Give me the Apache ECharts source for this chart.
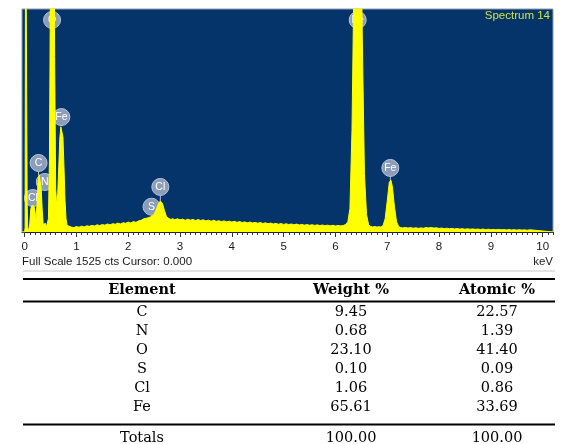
<!DOCTYPE html>
<html>
<head>
<meta charset="utf-8">
<script src="https://cdn.jsdelivr.net/npm/echarts@6/dist/echarts.min.js"></script>
<style>
html, body { margin: 0; padding: 0; background: #ffffff; }
#chart { width: 564px; height: 444px; }
</style>
</head>
<body>
<div id="chart"></div>
<script>
// EDS spectrum, [energy (keV), counts]
const spectrum = [
  [-0.05, 0], [0.00, 0], [0.01, 30], [0.02, 2500], [0.04, 2500], [0.05, 200], [0.06, 30],
  [0.08, 10], [0.10, 60], [0.12, 160], [0.14, 180], [0.16, 185], [0.18, 178], [0.20, 140],
  [0.22, 85], [0.24, 190], [0.26, 340], [0.28, 392], [0.30, 380], [0.32, 300], [0.34, 150],
  [0.36, 50], [0.38, 40], [0.40, 60], [0.42, 35], [0.44, 30], [0.46, 90], [0.48, 500],
  [0.50, 1800], [0.52, 2700], [0.54, 2800], [0.56, 2600], [0.58, 1200], [0.60, 300], [0.62, 180],
  [0.64, 260], [0.66, 450], [0.68, 640], [0.70, 720], [0.72, 725], [0.74, 650], [0.76, 450],
  [0.78, 220], [0.80, 90], [0.82, 45], [0.85, 32], [0.90, 34], [0.95, 30], [1.00, 37], [1.05, 33],
  [1.10, 40], [1.15, 35], [1.20, 42], [1.25, 39], [1.30, 45], [1.35, 41], [1.40, 49],
  [1.45, 44], [1.50, 51], [1.55, 47], [1.60, 55], [1.65, 49], [1.70, 57], [1.75, 53],
  [1.80, 61], [1.85, 55], [1.90, 63], [1.95, 60], [2.00, 68], [2.05, 62], [2.10, 71],
  [2.15, 66], [2.20, 76], [2.25, 80], [2.30, 90], [2.35, 94], [2.40, 99], [2.45, 106],
  [2.50, 120], [2.54, 152], [2.58, 190], [2.62, 212], [2.66, 196], [2.70, 146], [2.74, 104],
  [2.78, 94], [2.82, 86], [2.86, 91], [2.90, 84], [2.95, 90], [3.00, 83], [3.05, 88],
  [3.10, 80], [3.15, 87], [3.20, 81], [3.25, 86], [3.30, 78], [3.35, 85], [3.40, 79],
  [3.45, 83], [3.50, 76], [3.55, 81], [3.60, 74], [3.65, 80], [3.70, 73], [3.75, 77],
  [3.80, 71], [3.85, 76], [3.90, 70], [3.95, 74], [4.00, 68], [4.05, 73], [4.10, 66],
  [4.15, 71], [4.20, 65], [4.25, 69], [4.30, 63], [4.35, 68], [4.40, 62], [4.45, 66],
  [4.50, 60], [4.55, 65], [4.60, 58], [4.65, 63], [4.70, 57], [4.75, 61], [4.80, 55],
  [4.85, 59], [4.90, 53], [4.95, 58], [5.00, 52], [5.05, 56], [5.10, 51], [5.15, 55],
  [5.20, 49], [5.25, 54], [5.30, 48], [5.35, 52], [5.40, 47], [5.45, 51], [5.50, 46],
  [5.55, 50], [5.60, 45], [5.65, 49], [5.70, 44], [5.75, 48], [5.80, 43], [5.85, 47],
  [5.90, 42], [5.95, 46], [6.00, 41], [6.05, 45], [6.10, 42], [6.15, 44], [6.20, 52],
  [6.24, 70], [6.28, 160], [6.32, 700], [6.36, 1800], [6.40, 2600], [6.44, 2800], [6.48, 2400],
  [6.52, 1300], [6.56, 400], [6.60, 120], [6.64, 50], [6.68, 38], [6.72, 35], [6.76, 37],
  [6.80, 34], [6.84, 36], [6.88, 34], [6.92, 45], [6.96, 90], [7.00, 210], [7.04, 340],
  [7.07, 356], [7.10, 310], [7.14, 170], [7.18, 70], [7.22, 38], [7.26, 30], [7.30, 28],
  [7.35, 31], [7.40, 27], [7.45, 30], [7.50, 26], [7.55, 29], [7.60, 25], [7.65, 28],
  [7.70, 26], [7.75, 30], [7.80, 28], [7.85, 31], [7.90, 27], [7.95, 29], [8.00, 24],
  [8.05, 27], [8.10, 23], [8.15, 26], [8.20, 22], [8.25, 25], [8.30, 21], [8.35, 24],
  [8.40, 20], [8.45, 23], [8.50, 19], [8.55, 22], [8.60, 19], [8.65, 21], [8.70, 18],
  [8.75, 20], [8.80, 17], [8.85, 20], [8.90, 16], [8.95, 19], [9.00, 16], [9.05, 18],
  [9.10, 15], [9.15, 18], [9.20, 15], [9.25, 17], [9.30, 14], [9.35, 17], [9.40, 14],
  [9.45, 16], [9.50, 13], [9.55, 16], [9.60, 13], [9.65, 15], [9.70, 12], [9.75, 15],
  [9.80, 14], [9.85, 12], [9.86, 0], [10.20, 0]
];

const fullScale = 1525;              // counts at the top of the plot
const energyMin = -0.05;
const energyMax = 10.2;
const tickLabels = [0, 1, 2, 3, 4, 5, 6, 7, 8, 9, 10];

// Peak markers: symbol, energy (keV), marker height, peak height (counts)
const peakNames   = ['O', 'Fe', 'C', 'N', 'Cl', 'S', 'Cl', 'Fe', 'Fe'];
const peakEnergy  = [0.53, 0.71, 0.27, 0.39, 0.16, 2.45, 2.62, 6.43, 7.06];
const markerLevel = [1450, 786, 472, 342, 232, 173, 308, 1450, 438];
const peakLevel   = [1525, 725, 390, 280, 180, 105, 212, 1525, 356];

// Quantification table
const headers   = ['Element', 'Weight %', 'Atomic %'];
const elements  = ['C', 'N', 'O', 'S', 'Cl', 'Fe'];
const weightPct = ['9.45', '0.68', '23.10', '0.10', '1.06', '65.61'];
const atomicPct = ['22.57', '1.39', '41.40', '0.09', '0.86', '33.69'];
const totals    = ['Totals', '100.00', '100.00'];

const chart = echarts.init(document.getElementById('chart'), null, { renderer: 'canvas' });

// minor ticks every 0.1 keV
const minorTicks = [];
for (let i = 0; i <= 102; i++) minorTicks.push(i / 10);

const sansFont = '"Liberation Sans", Arial, sans-serif';
const serifFont = '"DejaVu Serif", serif';

const markerData = peakNames.map((n, i) => [peakEnergy[i], markerLevel[i], peakLevel[i]]);

// table layout
const colX = [142, 351, 497];
const headerY = 290.5;
const firstRowY = 312;
const rowStep = 19;
const totalsY = 438;
const ruleX1 = 23, ruleX2 = 555;

const graphics = [];
function rule(y, w, color) {
  graphics.push({ type: 'line', silent: true,
    shape: { x1: ruleX1, y1: y, x2: ruleX2, y2: y },
    style: { stroke: color || '#000', lineWidth: w } });
}
function cell(text, x, y, bold) {
  graphics.push({ type: 'text', silent: true, x: x, y: y,
    style: { text: text, align: 'center', verticalAlign: 'middle',
      font: (bold ? 'bold ' : '') + '14.5px ' + serifFont, fill: '#000' } });
}
rule(271, 1, '#c8c8c8');
rule(279, 2);
rule(301.5, 2);
rule(424.5, 2);
headers.forEach((h, i) => cell(h, colX[i], headerY, true));
elements.forEach((el, r) => {
  const y = firstRowY + r * rowStep;
  cell(el, colX[0], y);
  cell(weightPct[r], colX[1], y);
  cell(atomicPct[r], colX[2], y);
});
totals.forEach((t, i) => cell(t, colX[i], totalsY));

// captions around the spectrum
graphics.push({ type: 'text', silent: true, x: 22, y: 262,
  style: { text: 'Full Scale ' + fullScale + ' cts Cursor: 0.000', align: 'left', verticalAlign: 'middle',
    font: '11.5px ' + sansFont, fill: '#1a1a1a' } });
graphics.push({ type: 'text', silent: true, x: 553, y: 262,
  style: { text: 'keV', align: 'right', verticalAlign: 'middle', font: '11.5px ' + sansFont, fill: '#1a1a1a' } });
graphics.push({ type: 'text', silent: true, x: 550, y: 16,
  style: { text: 'Spectrum 14', align: 'right', verticalAlign: 'middle', font: '11.5px ' + sansFont, fill: '#cfe43e' } });

const option = {
  animation: false,
  grid: {
    left: 22, right: 11, top: 9, bottom: 212,
    show: true, backgroundColor: '#04346a', borderColor: '#8c9db5', borderWidth: 1
  },
  xAxis: [{
    type: 'value', min: energyMin, max: energyMax,
    axisLine: { show: true, lineStyle: { color: '#222', width: 1 } },
    axisTick: { show: true, customValues: minorTicks, length: 3, lineStyle: { color: '#333' } },
    axisLabel: { customValues: tickLabels, margin: 9, color: '#1a1a1a', fontSize: 11.5, fontFamily: sansFont },
    splitLine: { show: false }
  }, {
    type: 'value', min: energyMin, max: energyMax, position: 'bottom',
    axisLine: { show: false },
    axisTick: { show: true, customValues: tickLabels, length: 5, lineStyle: { color: '#333' } },
    axisLabel: { show: false },
    splitLine: { show: false }
  }],
  yAxis: { type: 'value', min: 0, max: fullScale, show: false, splitLine: { show: false } },
  series: [{
    type: 'line', data: spectrum, xAxisIndex: 0, symbol: 'none', clip: true,
    lineStyle: { color: '#ffff00', width: 1 },
    areaStyle: { color: '#ffff00', opacity: 1 },
    silent: true
  }, {
    type: 'custom', data: markerData, xAxisIndex: 0, clip: true, silent: true,
    encode: { x: 0, y: 1 },
    renderItem: function (params, api) {
      const p = api.coord([api.value(0), api.value(1)]);
      const q = api.coord([api.value(0), api.value(2)]);
      return { type: 'group', children: [
        { type: 'line', shape: { x1: p[0], y1: p[1], x2: q[0], y2: q[1] },
          style: { stroke: '#b3c0d6', lineWidth: 1 } },
        { type: 'circle', shape: { cx: p[0], cy: p[1], r: 8.5 },
          style: { fill: '#8c9dba', stroke: '#b8c4d8', lineWidth: 1 } },
        { type: 'text', style: { text: peakNames[params.dataIndex], x: p[0], y: p[1] + 0.5,
          align: 'center', verticalAlign: 'middle', fill: '#ffffff', font: '10.5px ' + sansFont } }
      ] };
    }
  }],
  graphic: graphics
};

chart.setOption(option);
</script>
</body>
</html>
